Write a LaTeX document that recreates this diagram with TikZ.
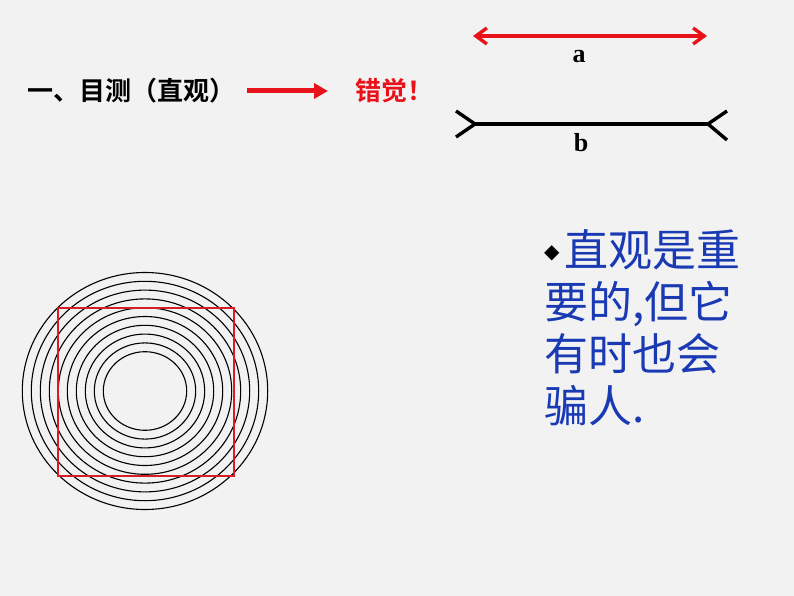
\documentclass[tikz,border=0pt]{standalone}
\usepackage{fontspec}
\setmainfont{Liberation Serif}
\newfontfamily\cjk{Noto Sans CJK SC}
\newfontfamily\cjkbold{Noto Sans CJK SC Bold}
\newfontfamily\dejavu{DejaVu Sans}
\usetikzlibrary{arrows.meta}
\definecolor{bg}{HTML}{F2F2F2}
\definecolor{myred}{HTML}{E8121A}
\definecolor{sqred}{HTML}{D81E24}
\definecolor{myblue}{HTML}{1A3AB4}
\tikzset{
  headtext/.style={inner sep=0pt, anchor=west, font=\cjkbold\fontsize{26}{26}\selectfont},
  lettertext/.style={inner sep=0pt, font=\bfseries\fontsize{26}{26}\selectfont},
  ring/.style={draw=black, line width=1.1pt},
}
\begin{document}
\begin{tikzpicture}[x=1pt,y=-1pt]
\fill[bg] (0,0) rectangle (794,596);
\useasboundingbox (0,0) rectangle (794,596);

% heading
\node[headtext] (title) at (27,91) {一、目测（直观）};
\node[headtext, text=myred] (illusion) at (355,91) {错觉！};
\coordinate (arrS) at (247,91);
\coordinate (arrE) at (328,91);
\draw[myred, line width=5pt, -{Triangle[length=14pt,width=15pt]}] (arrS) -- (arrE);

% line a
\coordinate (aL) at (473,36);
\coordinate (aR) at (707,36);
\draw[myred, line width=3.4pt, {Straight Barb[length=11pt,width=16pt]}-{Straight Barb[length=11pt,width=16pt]}] (aL) -- (aR);
\node[lettertext, anchor=base] (la) at (579,63) {a};

% line b
\coordinate (bL) at (475,124);
\coordinate (bR) at (708,124);
\coordinate (bL1) at (456,111);
\coordinate (bL2) at (456,137);
\coordinate (bR1) at (727,111);
\coordinate (bR2) at (727,140);
\draw[black, line width=3.4pt] (bL) -- (bR);
\draw[black, line width=3.4pt] (bL1) -- (bL) -- (bL2);
\draw[black, line width=3.4pt] (bR1) -- (bR) -- (bR2);
\node[lettertext, anchor=base] (lb) at (581,152) {b};

% rings
\coordinate (ctr) at (145,391);
\foreach \k in {0,...,9}{
  \draw[ring] (ctr) ellipse [x radius={41.7pt+9pt*\k}, y radius={39.3pt+8.8pt*\k}];
}
\draw[sqred, line width=2.6pt] (58,308) rectangle (234,476);

% right text
\node[inner sep=0pt, anchor=north west, align=left, text=myblue,
      font=\cjk\fontsize{44}{52}\selectfont] (note) at (544,229)
  {\raisebox{8pt}{\textcolor{black}{\dejavu\fontsize{20}{20}\selectfont ◆}}\hspace{5pt}直观是重\\要的,但它\\有时也会\\骗人.};
\end{tikzpicture}
\end{document}
